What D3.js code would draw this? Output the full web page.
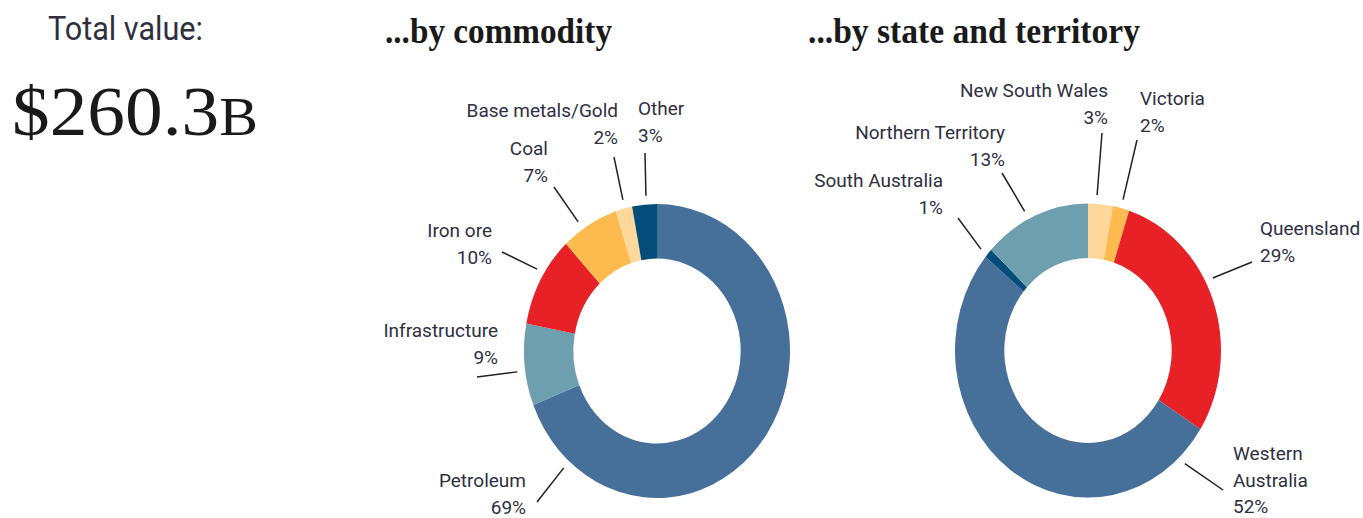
<!DOCTYPE html>
<html>
<head>
<meta charset="utf-8">
<script src="https://cdn.jsdelivr.net/npm/d3@7"></script>
<style>
  html, body { margin: 0; padding: 0; background: #ffffff; }
  svg { display: block; }
</style>
</head>
<body>
<svg id="chart" width="1363" height="518"></svg>
<script>
// ---- Data ----
const totalValue = 260.3;                 // $ billions
const commodities = ["Petroleum", "Infrastructure", "Iron ore", "Coal", "Base metals/Gold", "Other"];
const commodityShare = [69, 9, 10, 7, 2, 3];
const states = ["New South Wales", "Victoria", "Queensland", "Western Australia", "South Australia", "Northern Territory"];
const stateShare = [3, 2, 29, 52, 1, 13];

// ---- Colours ----
const commodityColors = ["#46709a", "#6e9fae", "#e82127", "#fdbb4f", "#fdd89a", "#044d7a"];
const stateColors     = ["#fdd89a", "#fdbb4f", "#e82127", "#46709a", "#044d7a", "#6e9fae"];

// ---- Label layout (leader ring angle in degrees, leader end, text anchor/position; relative to donut centre) ----
const commodityLabels = [
  { lines: ["Petroleum"],        a: 221.4, end: [-120, 151],  anchor: "end",   tx: -131, ty: 136 },
  { lines: ["Infrastructure"],   a: 262.3, end: [-180, 26],   anchor: "end",   tx: -159, ty: -14 },
  { lines: ["Iron ore"],         a: 301.7, end: [-155, -99],  anchor: "end",   tx: -165, ty: -114 },
  { lines: ["Coal"],             a: 326,   end: [-103, -164], anchor: "end",   tx: -109, ty: -196 },
  { lines: ["Base metals/Gold"], a: 346,   end: [-43, -194],  anchor: "end",   tx: -39,  ty: -234 },
  { lines: ["Other"],            a: 355.5, end: [-12, -198],  anchor: "start", tx: -19,  ty: -236 }
];
const stateLabels = [
  { lines: ["New South Wales"],       a: 3.7,   end: [14, -217.5],   anchor: "end",   tx: 20,   ty: -253.5 },
  { lines: ["Victoria"],              a: 14.4,  end: [49, -210.5],   anchor: "start", tx: 52,   ty: -245.5 },
  { lines: ["Queensland"],            a: 62.3,  end: [164, -88.5],   anchor: "start", tx: 172,  ty: -115.5 },
  { lines: ["Western", "Australia"],  a: 136.6, end: [135, 139.5],   anchor: "start", tx: 145,  ty: 109.5 },
  { lines: ["South Australia"],       a: 310.6, end: [-130, -132.5], anchor: "end",   tx: -145, ty: -163.5 },
  { lines: ["Northern Territory"],    a: 333.3, end: [-86, -177.5],  anchor: "end",   tx: -83,  ty: -211.5 }
];

// ---- Geometry ----
const outerR = 147, innerR = 92.5, squeeze = 133 / 147, lineH = 26.5;
const svg = d3.select("#chart");

// ---- Header text ----
svg.append("text")
  .attr("x", 48).attr("y", 40)
  .attr("font-family", "Roboto, 'Open Sans', sans-serif")
  .attr("font-size", 33).attr("fill", "#2f2f3f")
  .attr("textLength", 155).attr("lengthAdjust", "spacingAndGlyphs")
  .text("Total value:");

const big = svg.append("text")
  .attr("x", 12).attr("y", 135)
  .attr("font-family", "'Liberation Serif', 'DejaVu Serif', serif")
  .attr("font-size", 70).attr("fill", "#1a1a1a")
  .attr("textLength", 246).attr("lengthAdjust", "spacingAndGlyphs");
big.append("tspan").text("$" + d3.format(".1f")(totalValue));
big.append("tspan").attr("font-size", 54).text("B");

function title(x, width, str) {
  svg.append("text")
    .attr("x", x).attr("y", 43)
    .attr("font-family", "'Liberation Serif', 'DejaVu Serif', serif")
    .attr("font-weight", "bold")
    .attr("font-size", 35).attr("fill", "#1a1a1a")
    .attr("textLength", width).attr("lengthAdjust", "spacingAndGlyphs")
    .text(str);
}
title(385, 227, "...by commodity");
title(808, 332, "...by state and territory");

// ---- Donut ----
function donut(cx, cy, names, values, colors, labels) {
  const pie = d3.pie().sort(null).value(d => d.v);
  const arcs = pie(names.map((n, i) => ({ n, v: values[i], c: colors[i] })));
  const arc = d3.arc().innerRadius(innerR).outerRadius(outerR);

  const g = svg.append("g").attr("transform", `translate(${cx},${cy})`);
  g.append("g")
    .attr("transform", `scale(${squeeze},1)`)
    .selectAll("path")
    .data(arcs)
    .join("path")
    .attr("d", arc)
    .attr("fill", d => d.data.c);

  // leaders + labels
  arcs.forEach((d, i) => {
    const L = labels[i];
    const rad = L.a * Math.PI / 180;
    const r = outerR * 1.06;
    const x0 = Math.sin(rad) * r * squeeze;
    const y0 = -Math.cos(rad) * r;
    g.append("line")
      .attr("x1", x0).attr("y1", y0)
      .attr("x2", L.end[0]).attr("y2", L.end[1])
      .attr("stroke", "#222").attr("stroke-width", 1.5);

    const t = g.append("text")
      .attr("text-anchor", L.anchor)
      .attr("font-family", "Roboto, 'Open Sans', sans-serif")
      .attr("font-size", 19)
      .attr("fill", "#2f2f3f");
    const lines = L.lines.concat([d.data.v + "%"]);
    lines.forEach((s, k) => {
      t.append("tspan").attr("x", L.tx).attr("y", L.ty + k * lineH).text(s);
    });
  });
}

donut(657, 351, commodities, commodityShare, commodityColors, commodityLabels);
donut(1088, 350.5, states, stateShare, stateColors, stateLabels);
</script>
</body>
</html>
